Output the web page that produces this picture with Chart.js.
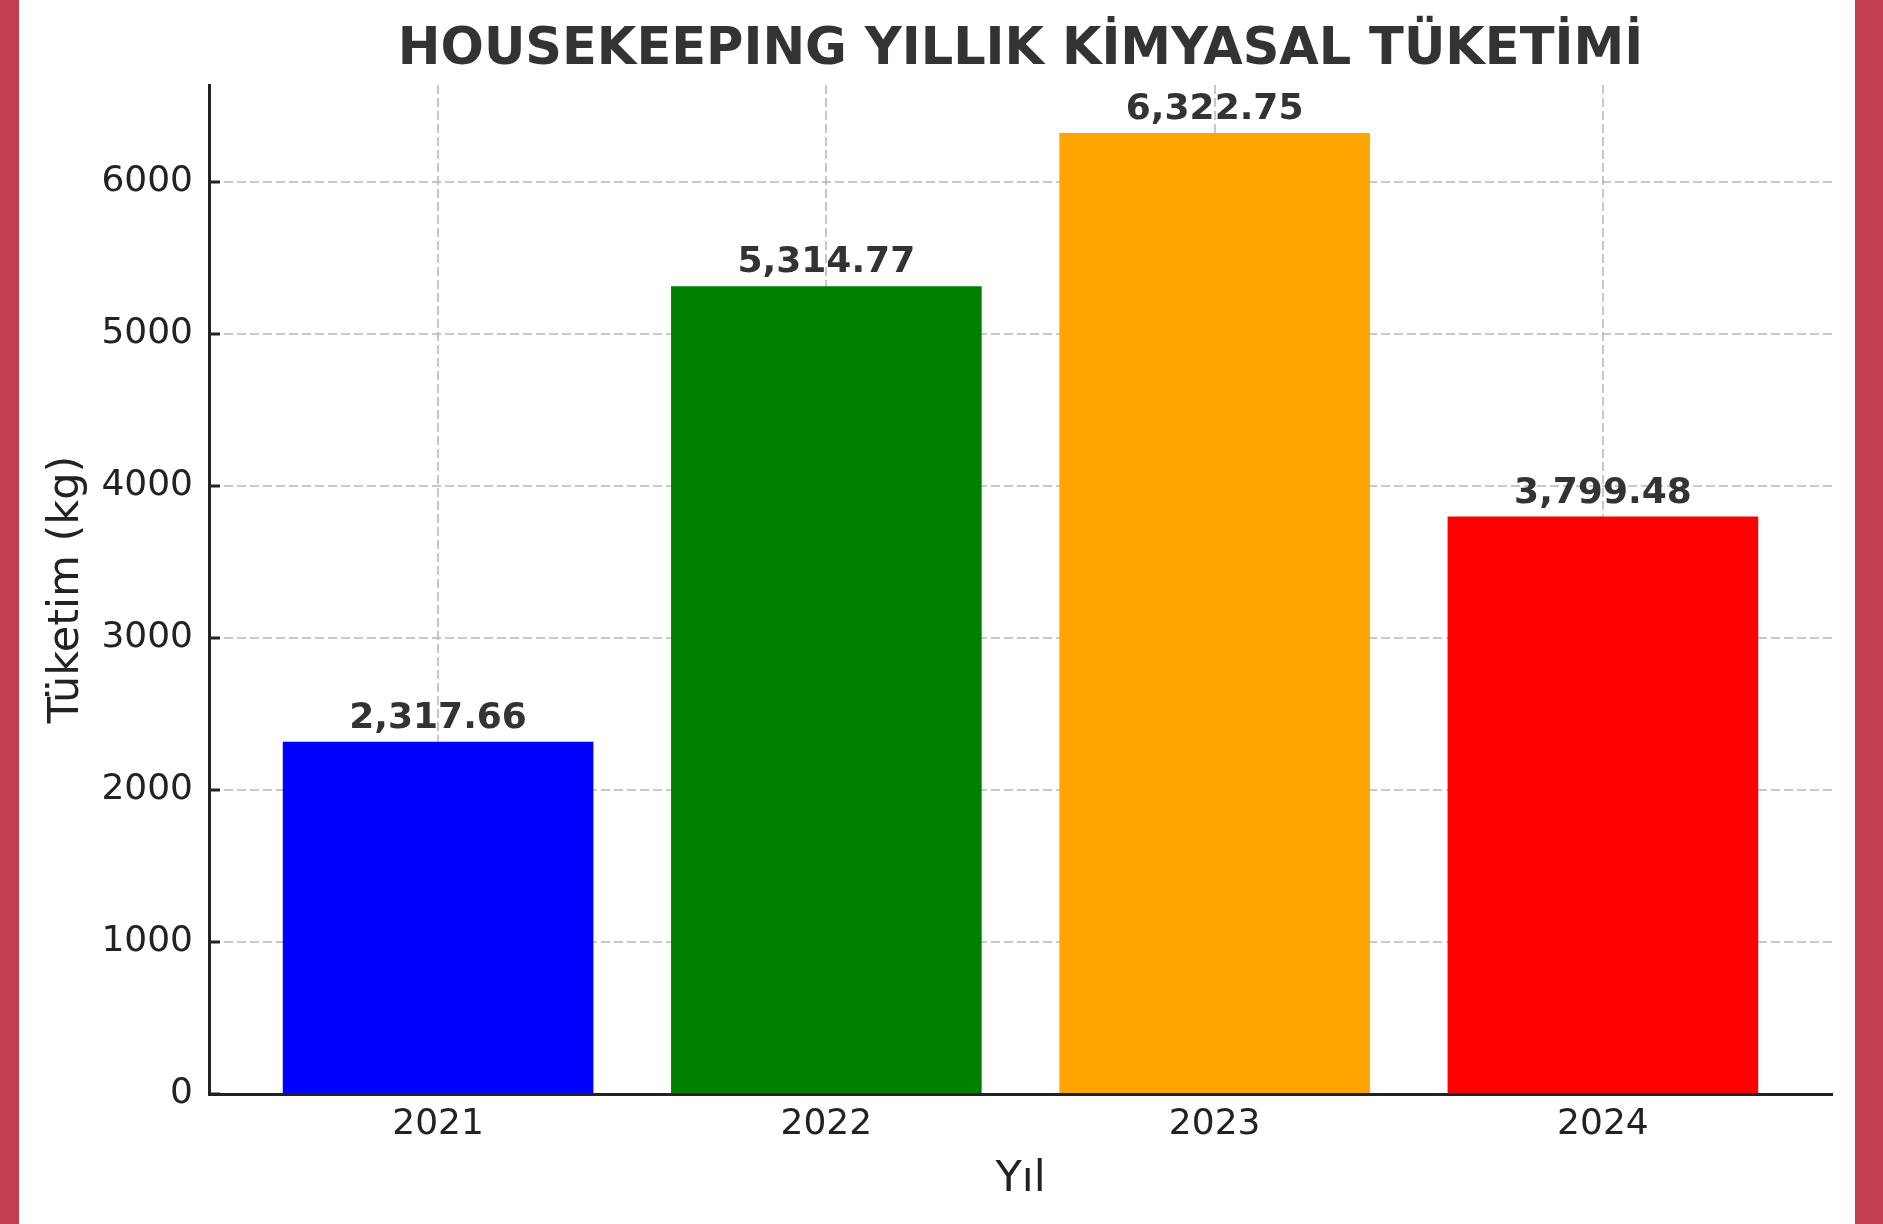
<!DOCTYPE html>
<html>
<head>
<meta charset="utf-8">
<title>Housekeeping Yıllık Kimyasal Tüketimi</title>
<script src="https://cdn.jsdelivr.net/npm/chart.js"></script>
<style>
  html, body { margin: 0; padding: 0; }
  body { width: 1883px; height: 1224px; background: #c33e50; overflow: hidden; position: relative; }
  #chart { position: absolute; left: 19px; top: 0; background: #ffffff; }
</style>
</head>
<body>
<canvas id="chart" width="1836" height="1224"></canvas>

<script>
    // chart data
    const chartTitle = 'HOUSEKEEPING YILLIK KİMYASAL TÜKETİMİ';
    const years = ['2021', '2022', '2023', '2024'];
    const consumption = [2317.66, 5314.77, 6322.75, 3799.48];
    const barColors = ['#0000ff', '#008000', '#ffa500', '#ff0000'];
    const yTicks = [0, 1000, 2000, 3000, 4000, 5000, 6000];

    const FONT = "'DejaVu Sans', 'Liberation Sans', sans-serif";
    const gridColor = 'rgba(176, 176, 176, 0.7)';

    // title centred over the plot area, value labels above the bars
    const annotate = {
        id: 'annotate',
        afterDraw(chart) {
            const ctx = chart.ctx;
            const area = chart.chartArea;
            ctx.save();
            ctx.font = 'bold 51px ' + FONT;
            ctx.fillStyle = '#333333';
            ctx.textAlign = 'center';
            ctx.textBaseline = 'middle';
            ctx.fillText(chartTitle, (area.left + area.right) / 2, 51);

            ctx.font = 'bold 36px ' + FONT;
            ctx.textBaseline = 'alphabetic';
            const meta = chart.getDatasetMeta(0);
            meta.data.forEach((bar, i) => {
                const txt = consumption[i].toLocaleString('en-US', { minimumFractionDigits: 2, maximumFractionDigits: 2 });
                ctx.fillText(txt, bar.x, bar.y - 14);
            });
            ctx.restore();
        }
    };

    const ctx = document.getElementById('chart').getContext('2d');
    const chart = new Chart(ctx, {
        type: 'bar',
        data: {
            datasets: [{
                label: 'Tüketim (kg)',
                data: consumption.map((v, i) => ({ x: i, y: v })),
                backgroundColor: barColors,
                borderWidth: 0,
                barPercentage: 0.8,
                categoryPercentage: 1.0
            }]
        },
        options: {
            responsive: false,
            animation: false,
            devicePixelRatio: 1,
            layout: { padding: { left: 0, right: 23, top: 85, bottom: 0 } },
            plugins: {
                legend: { display: false },
                tooltip: { enabled: false },
                title: { display: false }
            },
            scales: {
                x: {
                    type: 'linear',
                    min: -0.59,
                    max: 3.59,
                    offset: false,
                    z: 1,
                    afterBuildTicks: axis => { axis.ticks = years.map((y, i) => ({ value: i })); },
                    afterFit: axis => { axis.height = 130; },
                    ticks: {
                        callback: v => years[v],
                        color: '#222222',
                        font: { family: FONT, size: 36 },
                        padding: 20,
                        maxRotation: 0,
                        autoSkip: false
                    },
                    grid: {
                        offset: false,
                        color: gridColor,
                        lineWidth: 2,
                        drawTicks: true,
                        tickLength: -11,
                        tickColor: '#222222',
                        tickWidth: 3
                    },
                    border: { display: true, color: '#222222', width: 3, dash: [9, 4] },
                    title: {
                        display: true,
                        text: 'Yıl',
                        color: '#222222',
                        font: { family: FONT, size: 43, lineHeight: 1.2 },
                        padding: { top: 0, bottom: 18 }
                    }
                },
                y: {
                    min: 0,
                    max: 6639,
                    z: 1,
                    afterBuildTicks: axis => { axis.ticks = yTicks.map(v => ({ value: v })); },
                    afterFit: axis => { axis.width = 190; },
                    ticks: {
                        callback: v => String(v),
                        color: '#222222',
                        font: { family: FONT, size: 36 },
                        padding: 27
                    },
                    grid: {
                        color: gridColor,
                        lineWidth: 2,
                        drawTicks: true,
                        tickLength: -11,
                        tickColor: '#222222',
                        tickWidth: 3
                    },
                    border: { display: true, color: '#222222', width: 3, dash: [9, 4] },
                    title: {
                        display: true,
                        text: 'Tüketim (kg)',
                        color: '#222222',
                        font: { family: FONT, size: 43, lineHeight: 1.2 },
                        padding: { top: 22, bottom: 0 }
                    }
                }
            }
        },
        plugins: [annotate]
    });
</script>
</body>
</html>
